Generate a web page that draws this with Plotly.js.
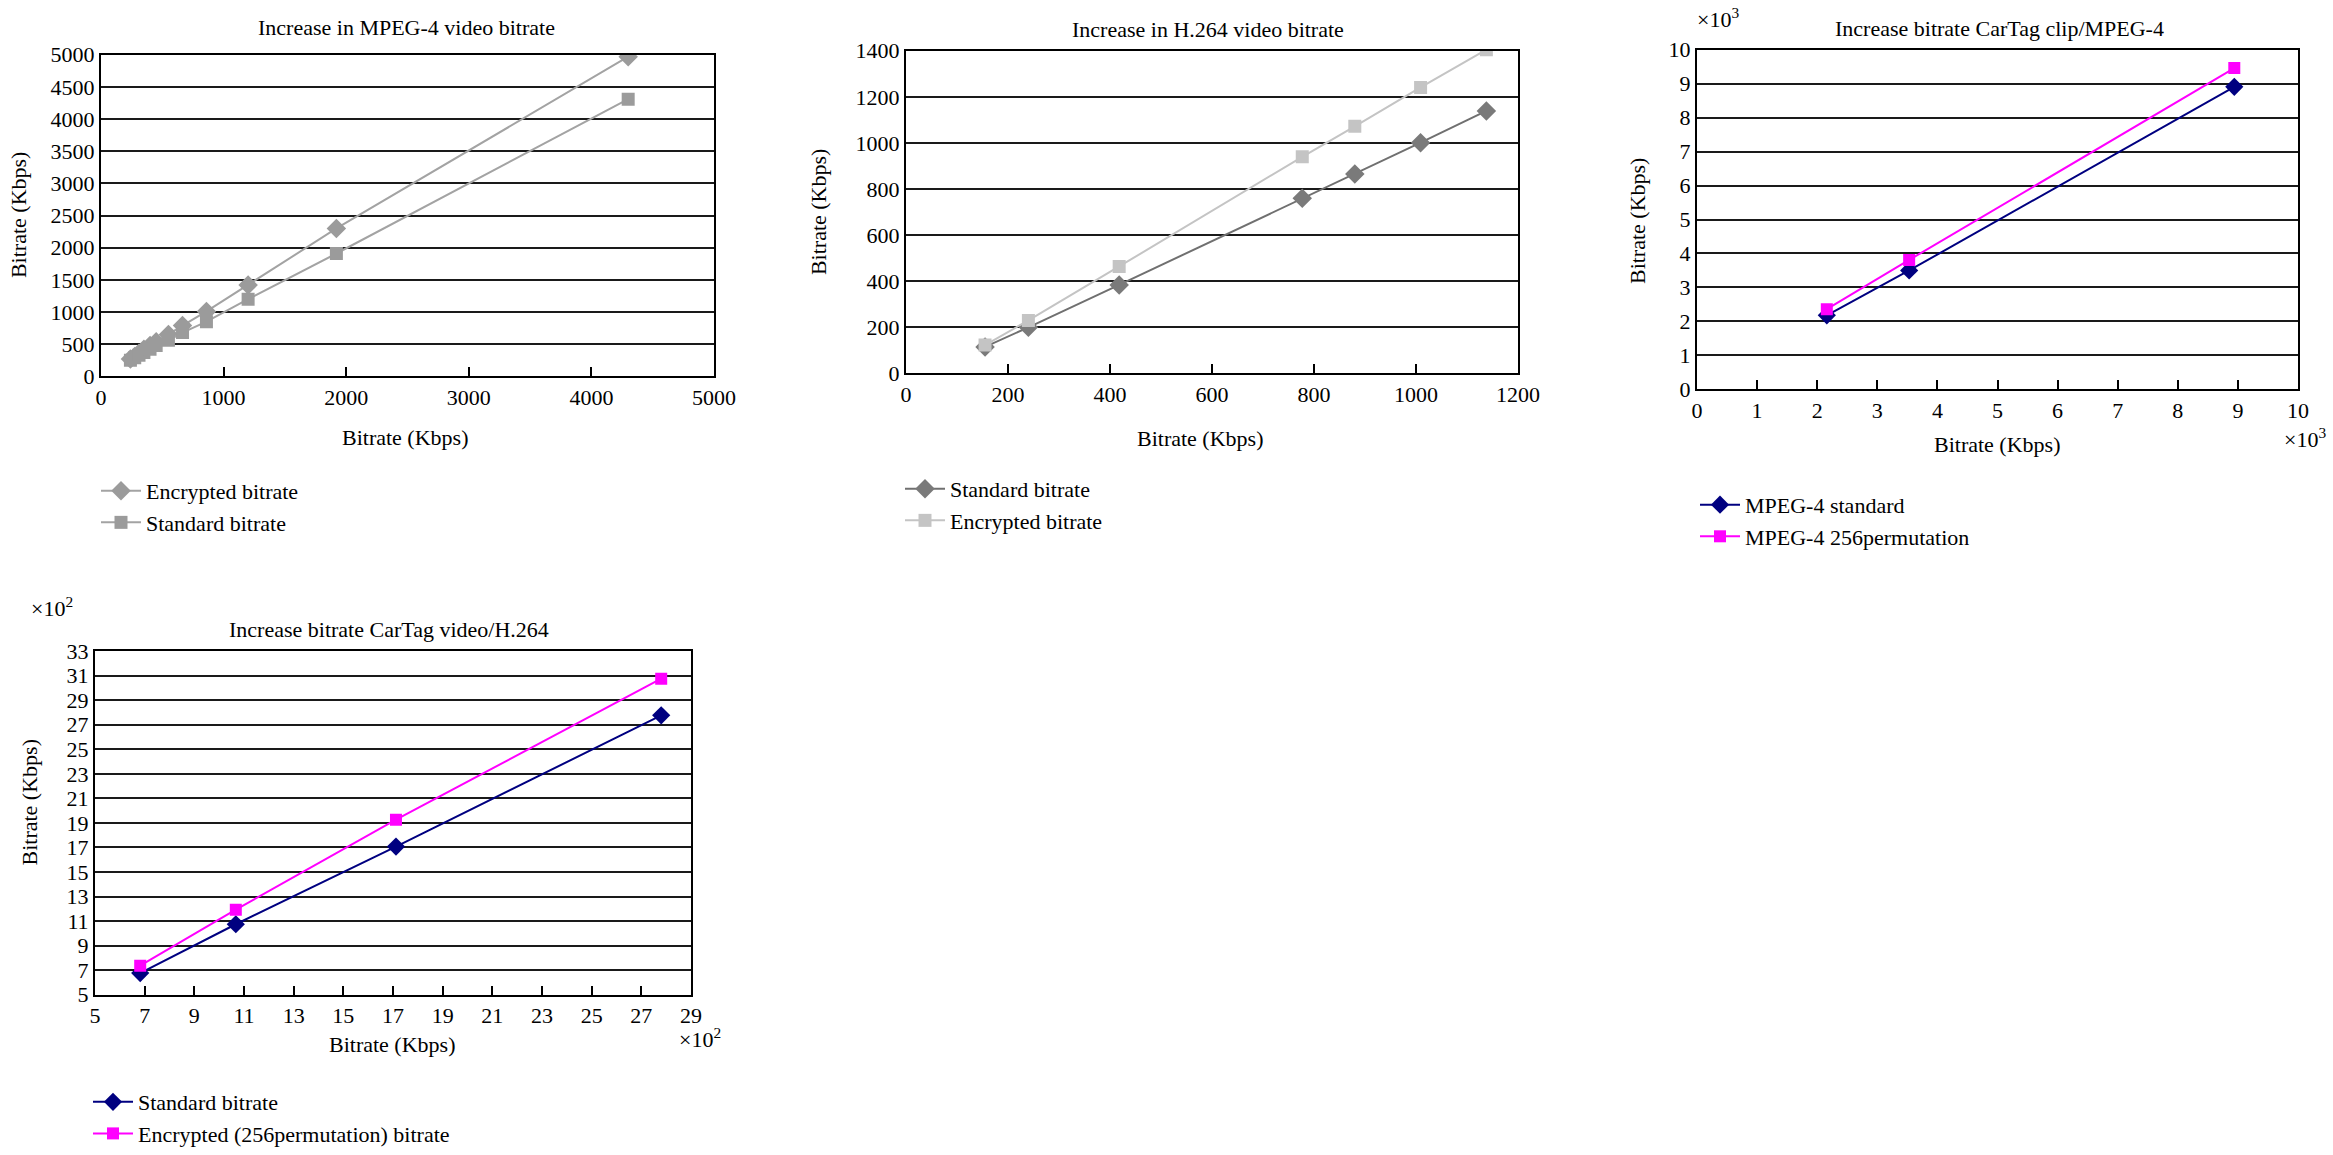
<!DOCTYPE html>
<html>
<head>
<meta charset="utf-8">
<script src="https://cdn.plot.ly/plotly-3.0.1.min.js"></script>
<style>
  html, body { margin: 0; padding: 0; background: #fff; }
  #plot { width: 2333px; height: 1155px; }
</style>
</head>
<body>
<div id="plot"></div>
<script>
// Chart 1: MPEG-4 (Kbps)
var mpegX = [240, 275, 310, 350, 400, 450, 550, 665, 860, 1200, 1920, 4300];
var mpegEncrypted = [270, 310, 360, 420, 480, 540, 650, 790, 1010, 1420, 2300, 4970];
var mpegStandard = [250, 290, 330, 370, 420, 480, 560, 680, 850, 1200, 1910, 4310];

// Chart 2: H.264 (Kbps)
var h264X = [155, 240, 418, 777, 880, 1009, 1138];
var h264Standard = [115, 200, 384, 760, 865, 1001, 1139];
var h264Encrypted = [123, 230, 464, 940, 1072, 1241, 1405];

// Chart 3: CarTag clip / MPEG-4 (x10^3 Kbps)
var clipX = [2.16, 3.53, 8.94];
var clipStandard = [2.18, 3.50, 8.91];
var clipPerm = [2.36, 3.81, 9.46];

// Chart 4: CarTag video / H.264 (x10^2 Kbps)
var videoX = [6.82, 10.67, 17.12, 27.8];
var videoStandard = [6.76, 10.74, 17.07, 27.77];
var videoEncrypted = [7.36, 11.93, 19.26, 30.76];

var FONT = "Liberation Serif, Times New Roman, serif";
var W = 2333, H = 1155;

function px(x) { return x / W; }
function py(y) { return 1 - y / H; }

function series(x, y, name, color, symbol, size, lineColor, xa, ya, legend) {
  return {
    x: x, y: y, name: name, type: "scatter", mode: "lines+markers",
    xaxis: xa, yaxis: ya, legend: legend,
    line: { color: lineColor, width: 2 },
    marker: { color: color, symbol: symbol, size: size }
  };
}

var traces = [
  series(mpegX, mpegEncrypted, "Encrypted bitrate", "#9b9b9b", "diamond", 15, "#a3a3a3", "x", "y", "legend"),
  series(mpegX, mpegStandard, "Standard bitrate", "#9b9b9b", "square", 13, "#a3a3a3", "x", "y", "legend"),
  series(h264X, h264Standard, "Standard bitrate", "#7a7a7a", "diamond", 15, "#707070", "x2", "y2", "legend2"),
  series(h264X, h264Encrypted, "Encrypted bitrate", "#c4c4c4", "square", 13, "#c4c4c4", "x2", "y2", "legend2"),
  series(clipX, clipStandard, "MPEG-4 standard", "#000080", "diamond", 14, "#000080", "x3", "y3", "legend3"),
  series(clipX, clipPerm, "MPEG-4 256permutation", "#ff00ff", "square", 12, "#ff00ff", "x3", "y3", "legend3"),
  series(videoX, videoStandard, "Standard bitrate", "#000080", "diamond", 14, "#000080", "x4", "y4", "legend4"),
  series(videoX, videoEncrypted, "Encrypted (256permutation) bitrate", "#ff00ff", "square", 12, "#ff00ff", "x4", "y4", "legend4")
];

function xAxis(domain, anchor, range, dtick, tick0) {
  return {
    domain: domain, anchor: anchor, range: range, dtick: dtick, tick0: tick0,
    showgrid: false, zeroline: false, showline: true, mirror: true,
    linecolor: "#000", linewidth: 2,
    ticks: "inside", ticklen: 9, tickwidth: 2, tickcolor: "#000",
    tickfont: { family: FONT, size: 22, color: "#000" }
  };
}

function yAxis(domain, anchor, range, dtick, tick0) {
  return {
    domain: domain, anchor: anchor, range: range, dtick: dtick, tick0: tick0,
    showgrid: true, gridcolor: "#1a1a1a", gridwidth: 2,
    zeroline: false, showline: true, mirror: true,
    linecolor: "#000", linewidth: 2, ticks: "",
    tickfont: { family: FONT, size: 22, color: "#000" }
  };
}

function legendAt(x, y) {
  return {
    x: x, y: y, xanchor: "left", yanchor: "top",
    bgcolor: "rgba(0,0,0,0)", borderwidth: 0,
    font: { family: FONT, size: 22, color: "#000" },
    itemwidth: 40, tracegroupgap: 0
  };
}

function label(text, x, y, opts) {
  var a = {
    text: text, x: px(x), y: py(y), xref: "paper", yref: "paper",
    showarrow: false, xanchor: "center", yanchor: "middle",
    font: { family: FONT, size: 22, color: "#000" }
  };
  for (var k in opts) a[k] = opts[k];
  return a;
}

var layout = {
  width: W, height: H,
  margin: { l: 0, r: 0, t: 0, b: 0 },
  paper_bgcolor: "#fff", plot_bgcolor: "#fff",
  showlegend: true,
  xaxis: xAxis([px(101), px(714)], "y", [0, 5000], 1000, 0),
  yaxis: yAxis([py(378), py(55)], "x", [0, 5000], 500, 0),
  xaxis2: xAxis([px(906), px(1518)], "y2", [0, 1200], 200, 0),
  yaxis2: yAxis([py(375), py(51)], "x2", [0, 1400], 200, 0),
  xaxis3: xAxis([px(1697), px(2298)], "y3", [0, 10], 1, 0),
  yaxis3: yAxis([py(391), py(50)], "x3", [0, 10], 1, 0),
  xaxis4: xAxis([px(95), px(691)], "y4", [5, 29], 2, 5),
  yaxis4: yAxis([py(999), py(654)], "x4", [5, 33], 2, 5),
  legend: legendAt(px(96), py(472)),
  legend2: legendAt(px(900), py(470)),
  legend3: legendAt(px(1695), py(486)),
  legend4: legendAt(px(88), py(1086)),
  annotations: [
    label("Increase in MPEG-4 video bitrate", 406, 28),
    label("Increase in H.264 video bitrate", 1208, 30),
    label("Increase bitrate CarTag clip/MPEG-4", 1999, 29),
    label("Increase bitrate CarTag video/H.264", 389, 632),
    label("Bitrate (Kbps)", 405, 439),
    label("Bitrate (Kbps)", 1200, 440),
    label("Bitrate (Kbps)", 1997, 446),
    label("Bitrate (Kbps)", 392, 1049),
    label("Bitrate (Kbps)", 18, 216, { textangle: -90 }),
    label("Bitrate (Kbps)", 818, 213, { textangle: -90 }),
    label("Bitrate (Kbps)", 1637, 222, { textangle: -90 }),
    label("Bitrate (Kbps)", 30, 806, { textangle: -90 }),
    label("×10<sup>3</sup>", 1718, 18),
    label("×10<sup>3</sup>", 2305, 440),
    label("×10<sup>2</sup>", 52, 610),
    label("×10<sup>2</sup>", 700, 1043)
  ]
};

Plotly.newPlot("plot", traces, layout, { displayModeBar: false, staticPlot: true });
</script>
</body>
</html>
